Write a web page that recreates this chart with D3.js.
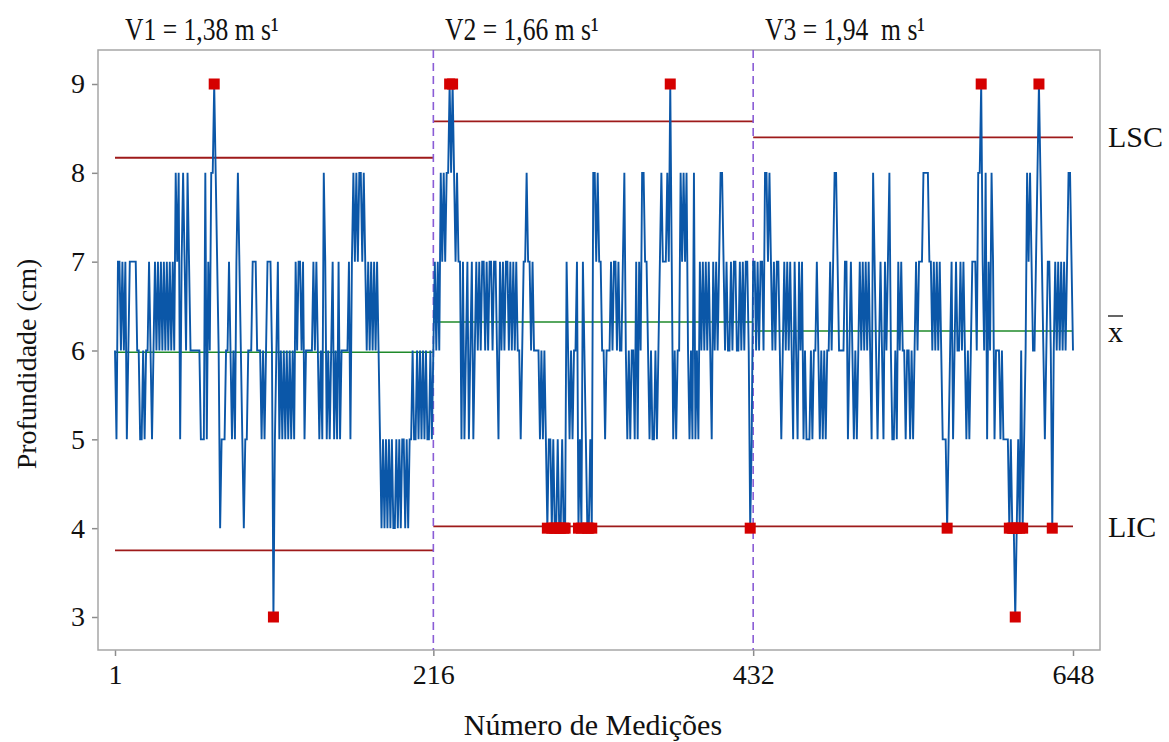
<!DOCTYPE html>
<html><head><meta charset="utf-8">
<script src="https://cdn.jsdelivr.net/npm/d3@7"></script>
<style>html,body{margin:0;padding:0;background:#fff;}</style>
</head><body>
<svg id="c" width="1169" height="742"></svg>
<script>
// ---- data ----
const seg1 = [
6,5,7,7,6,7,6,7,5,6, 7,7,7,7,7,6,6,5,5,6, 5,6,6,7,6,5,6,7,6,7, 6,7,6,7,6,7,6,7,6,7,
6,8,7,8,5,7,8,7,6,8, 7,6,6,6,6,6,6,6,5,5, 5,8,5,7,6,8,8,9,8,7, 6,4,5,5,5,6,6,7,6,5,
6,5,7,8,7,6,5,4,5,5, 6,6,6,7,7,7,6,6,6,5, 6,5,6,7,7,7,6,3,5,6, 7,5,6,5,6,5,6,5,6,5,
6,5,7,6,7,7,6,7,5,6, 6,6,6,6,7,6,7,6,5,6, 5,8,7,5,6,5,6,7,5,6, 5,7,5,6,6,6,6,6,7,5,
7,8,7,8,7,8,8,7,8,7, 6,7,6,7,6,7,6,7,6,5, 4,5,4,5,4,5,4,5,4,4, 5,4,5,4,5,5,4,5,4,5,
5,6,5,5,6,5,6,5,6,5, 6,5,5,6,5,6];
const seg2 = [
7,6,7,6,8,7,8,7,8,8, 9,8,9,8,7,8,7,7,5,7, 5,6,7,5,6,7,5,6,7,6, 7,6,7,7,6,7,6,7,7,6,
7,7,6,5,7,6,7,6,7,7, 6,7,6,7,6,7,6,6,5,6, 7,7,8,7,7,6,7,6,6,6, 6,5,6,5,6,5,4,5,5,4,
5,4,4,5,4,4,5,4,4,7, 6,5,6,5,6,6,7,4,5,4, 7,6,5,4,4,5,4,8,8,7, 8,7,7,6,6,5,6,6,6,7,
6,7,7,6,7,6,6,7,8,6, 5,6,5,6,6,5,7,5,7,6, 8,8,7,7,6,5,6,5,5,6, 5,6,7,8,7,7,7,8,7,9,
7,5,6,5,6,6,8,7,8,7, 8,6,5,6,5,8,5,6,5,7, 6,7,6,7,6,7,6,5,7,6, 7,6,7,8,8,7,6,7,6,6,
7,6,7,7,6,6,7,6,7,6, 7,7,6,4,5,7];
const seg3 = [
7,6,7,6,7,7,6,8,8,7, 8,7,6,7,6,7,7,6,5,6, 7,6,7,6,7,6,5,7,6,5, 7,6,7,5,6,5,5,5,6,5,
6,6,7,6,5,6,5,6,5,6, 6,7,6,7,8,8,7,6,6,6, 6,7,7,5,6,7,6,5,6,5, 6,7,6,7,6,7,6,7,6,5,
8,7,6,5,6,7,6,5,7,6, 7,8,6,5,5,6,5,7,6,7, 6,6,5,6,6,5,6,5,6,7, 6,7,7,7,8,8,8,8,7,7,
6,7,6,7,6,7,6,5,5,5, 4,5,6,7,5,6,7,6,6,7, 6,7,6,5,6,5,6,7,7,7, 6,8,8,9,7,6,8,5,7,6,
8,7,5,6,6,6,5,6,5,5, 5,5,4,5,4,4,3,4,5,4, 6,4,5,6,8,7,8,7,6,6, 7,8,9,8,7,6,5,6,7,7,
6,4,6,7,6,7,6,7,6,7, 6,7,8,8,7,6];
const segTitles = ["V1 = 1,38 m s\u00b9", "V2 = 1,66 m s\u00b9", "V3 = 1,94  m s\u00b9"];
const segBounds = [1, 216, 432, 648];       // x range of each phase
const lscVals  = [8.17, 8.58, 8.40];
const meanVals = [5.98, 6.32, 6.22];
const licVals  = [3.75, 4.02, 4.02];
const xTicks = [1, 216, 432, 648];
const yTicks = [3, 4, 5, 6, 7, 8, 9];
const rightLabels = ["LSC", "x", "LIC"];

const segs = [seg1, seg2, seg3];
const data = [];
let n = 1;
segs.forEach((s, k) => s.forEach(v => { data.push({i: n++, v, k}); }));

const FONT = '"Liberation Serif","Times New Roman",serif';
const svg = d3.select("#c");
const L = 98, R = 1100, T = 50, B = 650;
const x = d3.scaleLinear().domain([1, 648]).range([115, 1073]);
const y = d3.scaleLinear().domain([3, 9]).range([617, 84]);

// axes
const gy = svg.append("g").attr("transform", `translate(${L},0)`)
  .call(d3.axisLeft(y).tickValues(yTicks).tickFormat(d3.format("d")).tickSize(6).tickPadding(7));
const gx = svg.append("g").attr("transform", `translate(0,${B})`)
  .call(d3.axisBottom(x).tickValues(xTicks).tickFormat(d3.format("d")).tickSize(6).tickPadding(8));
[gx, gy].forEach(g => {
  g.select(".domain").remove();
  g.selectAll(".tick line").attr("stroke", "#8c8c8c").attr("stroke-width", 1.5);
  g.selectAll(".tick text").attr("fill", "#111").style("font-family", FONT).style("font-size", "28px");
});

// frame
svg.append("rect").attr("x", L).attr("y", T).attr("width", R - L).attr("height", B - T)
  .attr("fill", "none").attr("stroke", "#a6a6a6").attr("stroke-width", 1.5);

// limit lines
const segIdx = [0, 1, 2];
const lineSeg = (vals, color, w) => svg.append("g").selectAll("line").data(segIdx).join("line")
  .attr("x1", k => x(segBounds[k])).attr("x2", k => x(segBounds[k + 1]))
  .attr("y1", k => y(vals[k])).attr("y2", k => y(vals[k]))
  .attr("stroke", color).attr("stroke-width", w);
lineSeg(lscVals, "#9e1a1a", 1.8);
lineSeg(licVals, "#9e1a1a", 1.8);
lineSeg(meanVals, "#1f8a2a", 1.6);

// dividers
svg.append("g").selectAll("line").data([216, 432]).join("line")
  .attr("x1", d => x(d)).attr("x2", d => x(d)).attr("y1", T).attr("y2", B)
  .attr("stroke", "#8a5cd6").attr("stroke-width", 1.6).attr("stroke-dasharray", "8,5");

// series
svg.append("path").datum(data)
  .attr("d", d3.line().x(d => x(d.i)).y(d => y(d.v)))
  .attr("fill", "none").attr("stroke", "#0b57a8").attr("stroke-width", 1.9)
  .attr("stroke-linejoin", "miter");

// out of control points
const flagged = data.filter(d => d.v > lscVals[d.k] || d.v < licVals[d.k]);
svg.append("g").selectAll("rect").data(flagged).join("rect")
  .attr("x", d => x(d.i) - 5.5).attr("y", d => y(d.v) - 5.5)
  .attr("width", 11).attr("height", 11).attr("fill", "#d50000");

// titles
const titleX = [125, 445, 765];
svg.append("g").selectAll("text").data(segTitles).join("text")
  .attr("transform", (d, k) => `translate(${titleX[k]},40) scale(0.8,1)`)
  .style("font-family", FONT).style("font-size", "32px").style("white-space", "pre").attr("fill", "#111")
  .text(d => d);

// right labels
const rlY = [147, 342, 537];
svg.append("g").selectAll("text").data(rightLabels).join("text")
  .attr("x", 1108).attr("y", (d, k) => rlY[k])
  .style("font-family", FONT).style("font-size", "30px").attr("fill", "#111")
  .text(d => d);
svg.append("line").attr("x1", 1108).attr("x2", 1123).attr("y1", 316).attr("y2", 316)
  .attr("stroke", "#111").attr("stroke-width", 1.3);

// axis titles
svg.append("text").attr("x", 593).attr("y", 735).attr("text-anchor", "middle")
  .style("font-family", FONT).style("font-size", "30px").attr("fill", "#111")
  .text("Número de Medições");
svg.append("text").attr("transform", "translate(36,364) rotate(-90)").attr("text-anchor", "middle")
  .style("font-family", FONT).style("font-size", "28px").attr("fill", "#111")
  .text("Profundidade (cm)");
</script>
</body></html>
